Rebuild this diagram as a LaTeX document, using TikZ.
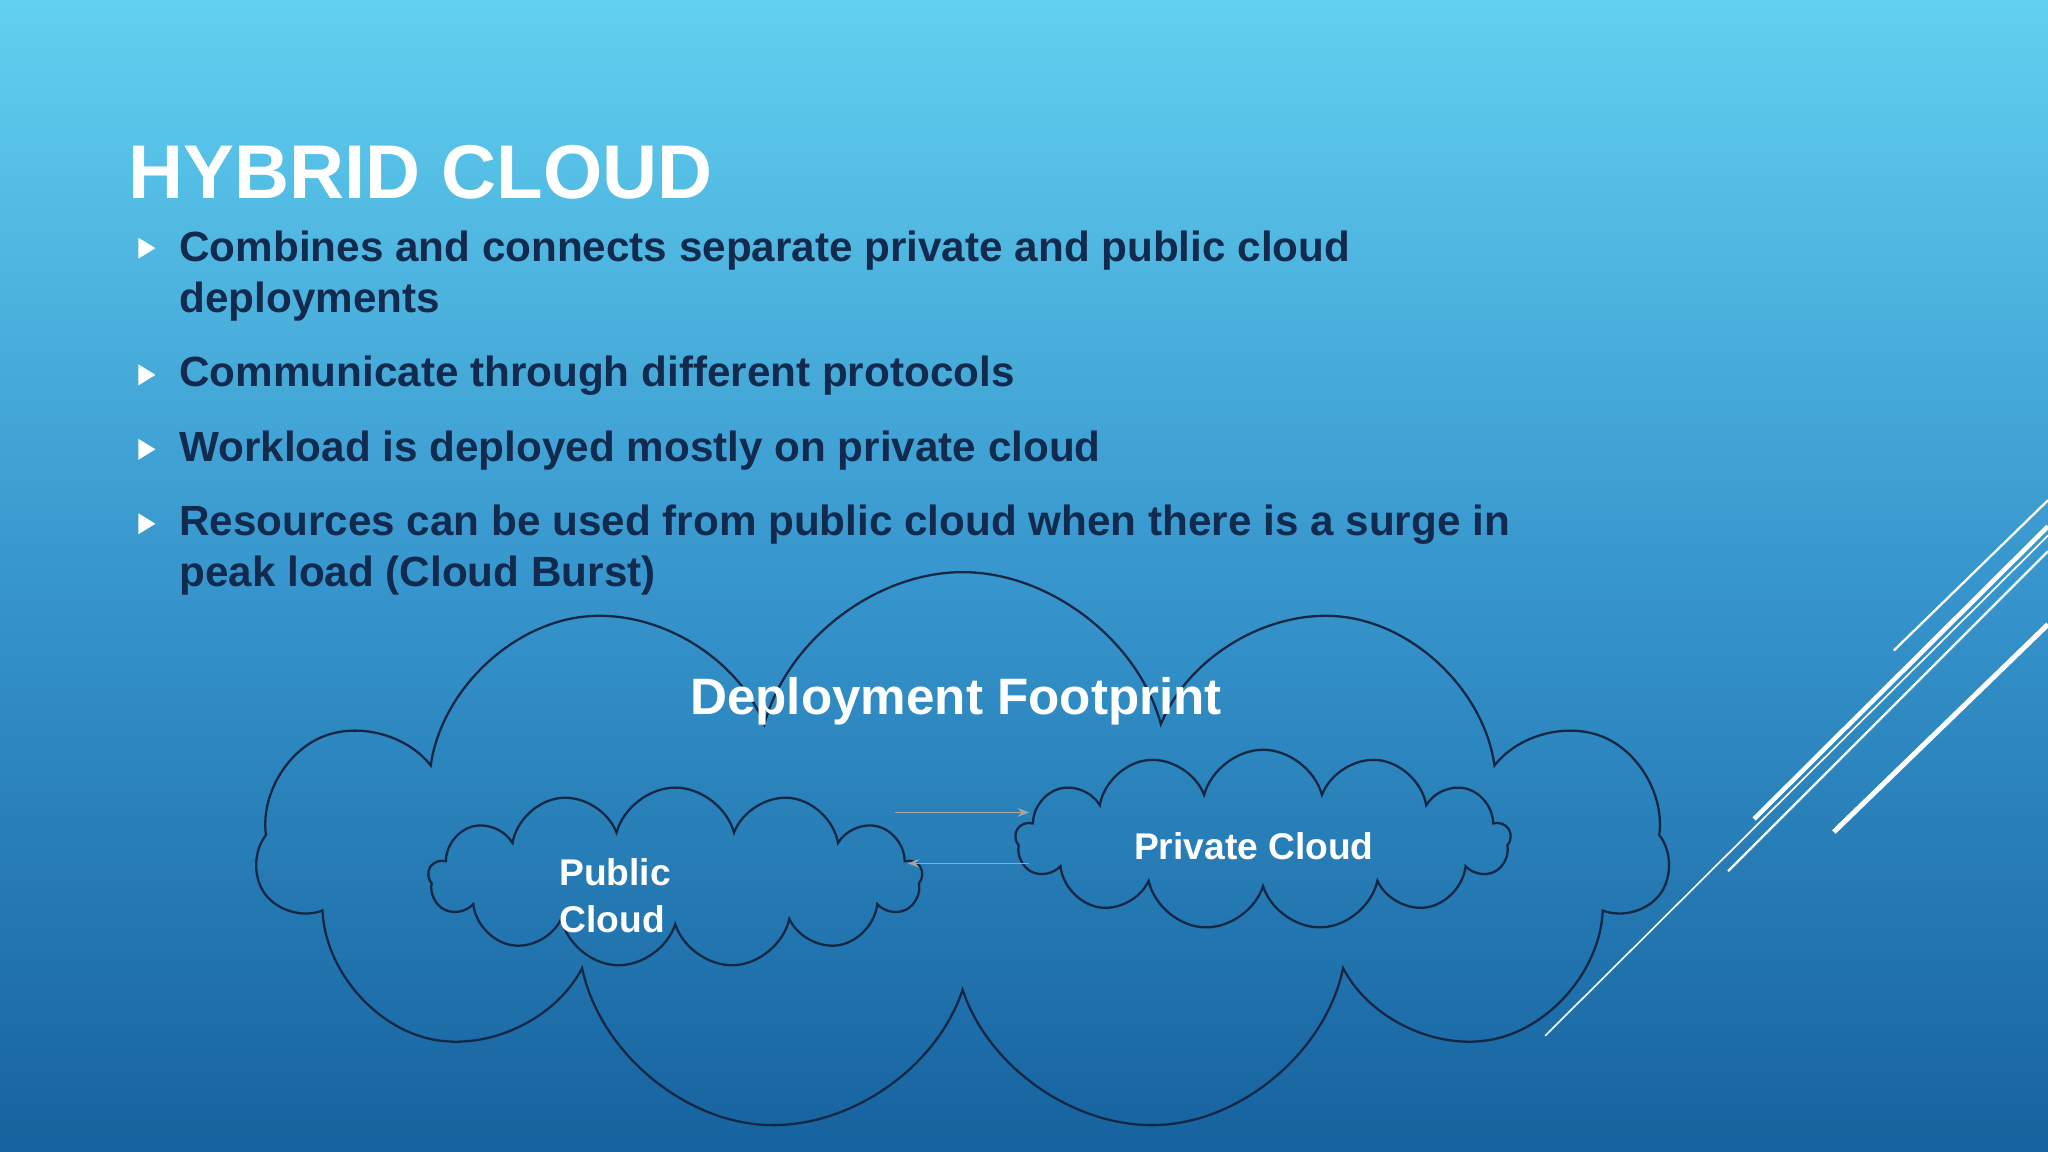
\documentclass[tikz,border=0pt]{standalone}
\usepackage{fontspec}
\setmainfont{Liberation Sans}
\usetikzlibrary{shapes.symbols,arrows.meta}
\definecolor{bgtop}{RGB}{98,208,240}
\definecolor{bgmid}{RGB}{55,150,205}
\definecolor{bgbot}{RGB}{22,98,158}
\definecolor{navy}{RGB}{18,42,78}
\definecolor{cloudline}{RGB}{20,40,70}
\tikzset{
  cloudshape/.style={cloud, draw=cloudline, line width=1pt, cloud ignores aspect},
  deco/.style={draw=white, line width=1pt},
  bul/.style={fill=white, draw=none},
  btext/.style={anchor=base west, inner sep=0, text=navy, font=\bfseries\fontsize{18.4}{22}\selectfont},
  linkarrow/.style={draw=gray!70, line width=0.6pt, -{Stealth[length=5pt]}}
}
\begin{document}
\begin{tikzpicture}[x=0.02cm,y=-0.02cm]
\shade[top color=bgtop, bottom color=bgbot, middle color=bgmid] (0,0) rectangle (1568,882);
\useasboundingbox (0,0) rectangle (1568,882);
% decorative lines
\draw[deco] (1450,498) -- (1568,383);
\draw[deco, line width=2pt] (1343,627) -- (1568,403);
\draw[deco] (1323,667) -- (1568,422);
\draw[deco, line width=2.2pt] (1404,637) -- (1568,478);
\draw[deco, line width=0.7pt] (1183,793) -- (1568,410);
% title
\node[anchor=base west, inner sep=0, text=white, font=\bfseries\fontsize{33.2}{38}\selectfont] (title) at (98,152) {HYBRID CLOUD};
% bullets
\foreach \y in {190,287,344,401}{
  \fill[bul] (106,\y-8) -- (119,\y) -- (106,\y+8) -- cycle;
}
\node[btext] (t1a) at (137,200) {Combines and connects separate private and public cloud};
\node[btext] (t1b) at (137,239) {deployments};
\node[btext] (t2) at (137,296) {Communicate through different protocols};
\node[btext] (t3) at (137,353) {Workload is deployed mostly on private cloud};
\node[btext] (t4a) at (137,410) {Resources can be used from public cloud when there is a surge in};
\node[btext] (t4b) at (137,449) {peak load (Cloud Burst)};
% clouds
\node[cloudshape, cloud puffs=11, minimum width=21.58cm, minimum height=8.64cm] (big) at (737,654) {};
\node[text=white, font=\bfseries\fontsize{22.3}{26}\selectfont] (dep) at (732,537) {Deployment Footprint};
\node[cloudshape, cloud puffs=13, minimum width=7.56cm, minimum height=2.76cm] (pub) at (517,672) {};
\node[cloudshape, cloud puffs=13, minimum width=7.58cm, minimum height=2.76cm] (priv) at (967,643) {};
\node[text=white, align=left, font=\bfseries\fontsize{16.2}{20.5}\selectfont] (publbl) at (471,686) {Public\\Cloud};
\node[text=white, font=\bfseries\fontsize{16.2}{20}\selectfont] (privlbl) at (960,648) {Private Cloud};
\coordinate (a1) at (685,622); \coordinate (a2) at (788,622);
\coordinate (b1) at (788,661); \coordinate (b2) at (695,661);
\draw[linkarrow] (a1) -- (a2);
\draw[linkarrow] (b1) -- (b2);
\end{tikzpicture}
\end{document}
